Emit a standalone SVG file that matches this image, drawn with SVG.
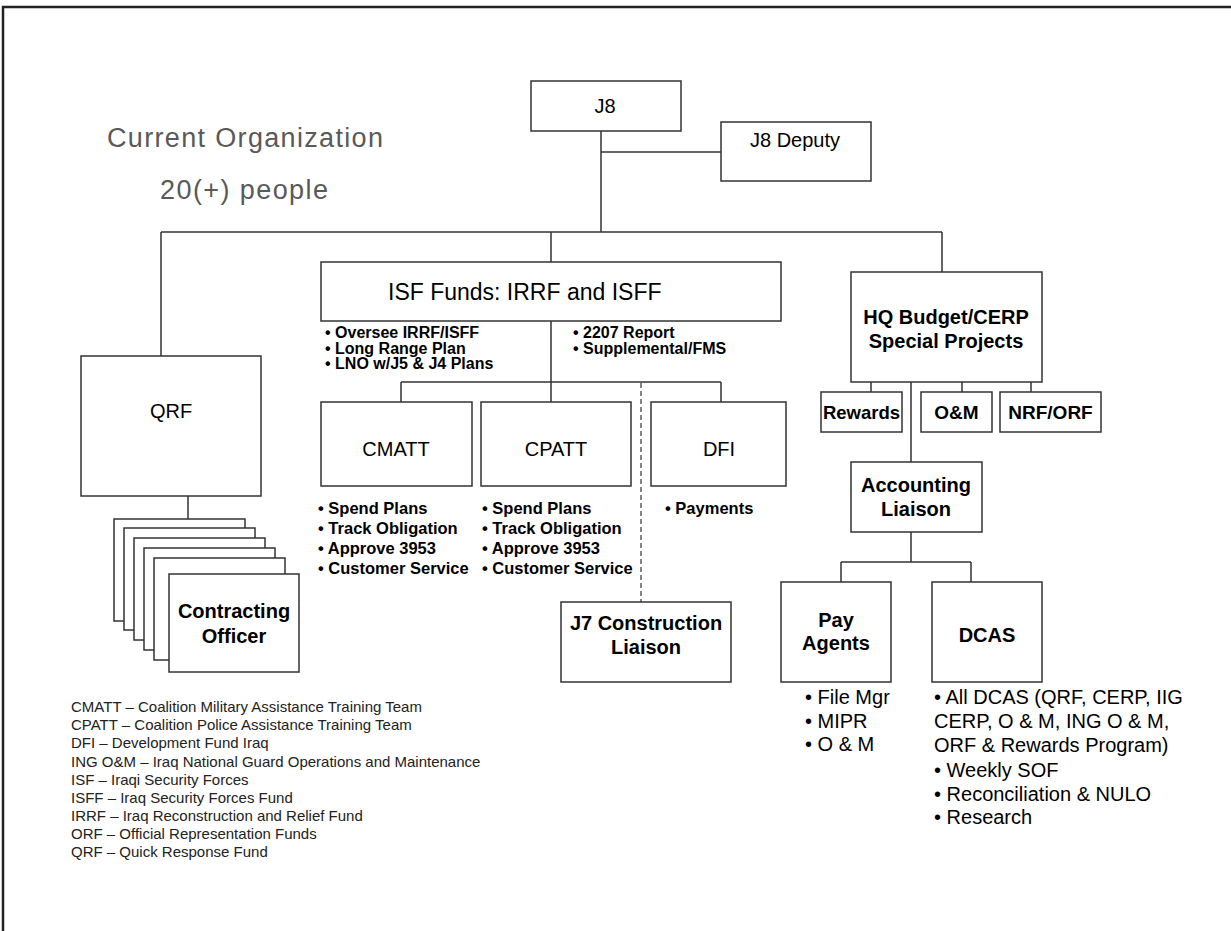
<svg xmlns="http://www.w3.org/2000/svg" width="1231" height="931" viewBox="0 0 1231 931">
<style>
.box{fill:#fff;stroke:#333;stroke-width:1.5}
.ln{fill:none;stroke:#333;stroke-width:1.5}
.dash{fill:none;stroke:#444;stroke-width:1.3;stroke-dasharray:5 3}
text{font-family:"Liberation Sans",Arial,sans-serif;fill:#000}
.lbl{font-size:20px;text-anchor:middle}
.b{font-weight:bold}
.bul{font-size:16.5px;font-weight:bold}
.isfb{font-size:16px;font-weight:bold}
.bul2{font-size:20px}
.leg{font-size:15px;fill:#222}
.title{font-size:27px;fill:#595959}
</style>
<rect x="0" y="0" width="1231" height="931" fill="#fff"/>
<path d="M3,931 V7 H1231" fill="none" stroke="#222" stroke-width="2.5"/>

<g id="titles">
<text class="title" x="107" y="147" textLength="276" lengthAdjust="spacing">Current Organization</text>
<text class="title" x="160" y="199" textLength="168" lengthAdjust="spacing">20(+) people</text>
</g>

<g id="connectors">
<path class="ln" d="M601,131 V232 M601,152 H721 M161,232 H942 M161,232 V356 M551,232 V262 M942,232 V272"/>
<path class="ln" d="M551,321 V382 M401,382 H721 M401,382 V402 M551,382 V402 M721,382 V402"/>
<path class="dash" d="M641,383 V602"/>
<path class="ln" d="M188,496 V519"/>
<path class="ln" d="M871,382 V392 M962,382 V392 M1031,382 V392 M911,382 V462"/>
<path class="ln" d="M911,532 V562 M841,562 H971 M841,562 V582 M971,562 V582"/>
</g>

<g id="j8">
<rect class="box" x="531" y="81" width="150" height="50"/>
<text class="lbl" x="605" y="113">J8</text>
</g>
<g id="j8deputy">
<rect class="box" x="721" y="122" width="150" height="59"/>
<text class="lbl" x="795" y="147">J8 Deputy</text>
</g>

<g id="qrf">
<rect class="box" x="81" y="356" width="180" height="140"/>
<text class="lbl" x="171" y="418">QRF</text>
</g>

<g id="contracting">
<rect class="box" x="114" y="519" width="131" height="102"/>
<rect class="box" x="124" y="528" width="131" height="102"/>
<rect class="box" x="134" y="538" width="131" height="102"/>
<rect class="box" x="144" y="548" width="131" height="102"/>
<rect class="box" x="154" y="558" width="131" height="102"/>
<rect class="box" x="169" y="574" width="130" height="98"/>
<text class="lbl b" x="234" y="618">Contracting</text>
<text class="lbl b" x="234" y="643">Officer</text>
</g>

<g id="isf">
<rect class="box" x="321" y="262" width="460" height="59"/>
<text x="388" y="300" style="font-size:23px">ISF Funds: IRRF and ISFF</text>
<text class="isfb" x="325" y="338">• Oversee IRRF/ISFF</text>
<text class="isfb" x="325" y="353.5">• Long Range Plan</text>
<text class="isfb" x="325" y="369">• LNO w/J5 &amp; J4 Plans</text>
<text class="isfb" x="573" y="338">• 2207 Report</text>
<text class="isfb" x="573" y="353.5">• Supplemental/FMS</text>
</g>

<g id="cmatt">
<rect class="box" x="321" y="402" width="151" height="84"/>
<text class="lbl" x="396" y="456">CMATT</text>
<text class="bul" x="318" y="514">• Spend Plans</text>
<text class="bul" x="318" y="534">• Track Obligation</text>
<text class="bul" x="318" y="554">• Approve 3953</text>
<text class="bul" x="318" y="574">• Customer Service</text>
</g>

<g id="cpatt">
<rect class="box" x="481" y="402" width="150" height="84"/>
<text class="lbl" x="556" y="456">CPATT</text>
<text class="bul" x="482" y="514">• Spend Plans</text>
<text class="bul" x="482" y="534">• Track Obligation</text>
<text class="bul" x="482" y="554">• Approve 3953</text>
<text class="bul" x="482" y="574">• Customer Service</text>
</g>

<g id="dfi">
<rect class="box" x="651" y="402" width="135" height="84"/>
<text class="lbl" x="719" y="456">DFI</text>
<text class="bul" x="665" y="514">• Payments</text>
</g>

<g id="j7">
<rect class="box" x="561" y="602" width="170" height="80"/>
<text class="lbl b" x="646" y="630">J7 Construction</text>
<text class="lbl b" x="646" y="654">Liaison</text>
</g>

<g id="hq">
<rect class="box" x="851" y="272" width="191" height="110"/>
<text class="lbl b" x="946" y="324">HQ Budget/CERP</text>
<text class="lbl b" x="946" y="348">Special Projects</text>
</g>
<g id="rewards">
<rect class="box" x="821" y="392" width="81" height="40"/>
<text class="lbl b" x="861.5" y="419" style="font-size:18.5px">Rewards</text>
</g>
<g id="om">
<rect class="box" x="921" y="392" width="71" height="40"/>
<text class="lbl b" x="956.5" y="419" style="font-size:19px">O&amp;M</text>
</g>
<g id="nrf">
<rect class="box" x="1000" y="392" width="101" height="40"/>
<text class="lbl b" x="1050.5" y="419" style="font-size:19px">NRF/ORF</text>
</g>

<g id="accounting">
<rect class="box" x="851" y="462" width="131" height="70"/>
<text class="lbl b" x="916" y="491.5">Accounting</text>
<text class="lbl b" x="916" y="515.5">Liaison</text>
</g>

<g id="payagents">
<rect class="box" x="781" y="582" width="110" height="100"/>
<text class="lbl b" x="836" y="627">Pay</text>
<text class="lbl b" x="836" y="650">Agents</text>
<text class="bul2" x="805" y="704">• File Mgr</text>
<text class="bul2" x="805" y="727.5">• MIPR</text>
<text class="bul2" x="805" y="751">• O &amp; M</text>
</g>

<g id="dcas">
<rect class="box" x="932" y="582" width="110" height="100"/>
<text class="lbl b" x="987" y="642">DCAS</text>
<text class="bul2" x="934" y="704">• All DCAS (QRF, CERP, IIG</text>
<text class="bul2" x="934" y="728">CERP, O &amp; M, ING O &amp; M,</text>
<text class="bul2" x="934" y="752">ORF &amp; Rewards Program)</text>
<text class="bul2" x="934" y="777">• Weekly SOF</text>
<text class="bul2" x="934" y="800.5">• Reconciliation &amp; NULO</text>
<text class="bul2" x="934" y="824">• Research</text>
</g>

<g id="legend">
<text class="leg" x="71" y="712">CMATT – Coalition Military Assistance Training Team</text>
<text class="leg" x="71" y="730">CPATT – Coalition Police Assistance Training Team</text>
<text class="leg" x="71" y="748">DFI – Development Fund Iraq</text>
<text class="leg" x="71" y="766.5">ING O&amp;M – Iraq National Guard Operations and Maintenance</text>
<text class="leg" x="71" y="784.5">ISF – Iraqi Security Forces</text>
<text class="leg" x="71" y="802.5">ISFF – Iraq Security Forces Fund</text>
<text class="leg" x="71" y="820.5">IRRF – Iraq Reconstruction and Relief Fund</text>
<text class="leg" x="71" y="838.5">ORF – Official Representation Funds</text>
<text class="leg" x="71" y="856.5">QRF – Quick Response Fund</text>
</g>
</svg>
